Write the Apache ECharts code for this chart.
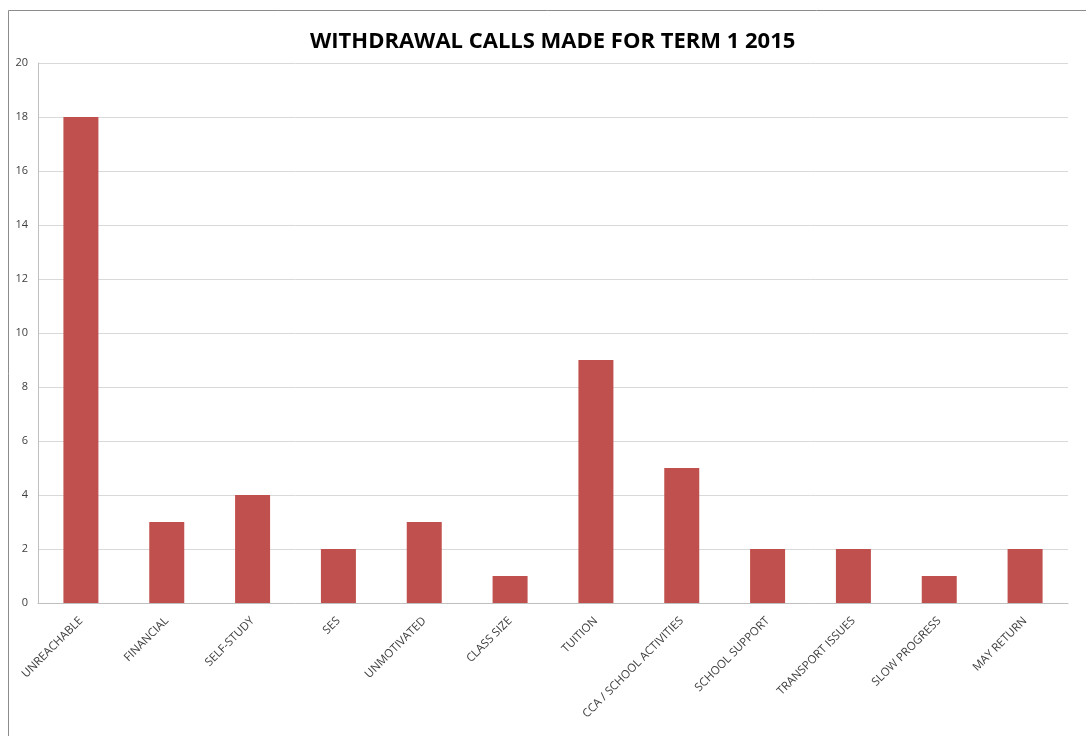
<!DOCTYPE html>
<html>
<head>
<meta charset="utf-8">
<script src="https://cdn.jsdelivr.net/npm/echarts@6/dist/echarts.min.js"></script>
<style>
html,body{margin:0;padding:0;background:#fff;}
#chart{width:1086px;height:736px;}
</style>
</head>
<body>
<div id="chart"></div>
<script>
const titleText = 'WITHDRAWAL CALLS MADE FOR TERM 1 2015';
const categories = ['UNREACHABLE','FINANCIAL','SELF-STUDY','SES','UNMOTIVATED','CLASS SIZE','TUITION','CCA / SCHOOL ACTIVITIES','SCHOOL SUPPORT','TRANSPORT ISSUES','SLOW PROGRESS','MAY RETURN'];
const values = [18,3,4,2,3,1,9,5,2,2,1,2];
const yTicks = {min:0, max:20, interval:2};

const chart = echarts.init(document.getElementById('chart'));
chart.setOption({
  animation:false,
  backgroundColor:'#fff',
  graphic:[{
    type:'polyline', silent:true,
    shape:{points:[[8.5,736],[8.5,10.5],[1086,10.5]]},
    style:{stroke:'#8c8c8c', lineWidth:1, fill:null}
  }],
  title:{
    text:titleText, left:305, top:26,
    textStyle:{fontFamily:'Open Sans', fontWeight:'bold', fontSize:22, color:'#000'}
  },
  grid:{left:38, right:18, top:63, bottom:133, containLabel:false},
  xAxis:{
    type:'category', data:categories,
    axisLine:{lineStyle:{color:'#bfbfbf'}},
    axisTick:{show:false},
    axisLabel:{rotate:45, interval:0, fontFamily:'Open Sans', fontSize:11.5, color:'#404040', margin:16}
  },
  yAxis:{
    type:'value', min:yTicks.min, max:yTicks.max, interval:yTicks.interval,
    axisLine:{show:true, lineStyle:{color:'#bfbfbf'}},
    axisTick:{show:false},
    splitLine:{lineStyle:{color:'#d9d9d9'}},
    axisLabel:{fontFamily:'Open Sans', fontSize:11, color:'#404040', margin:10}
  },
  series:[{
    type:'bar', data:values, barWidth:35,
    itemStyle:{color:'#C0504D'}
  }]
});
</script>
</body>
</html>
